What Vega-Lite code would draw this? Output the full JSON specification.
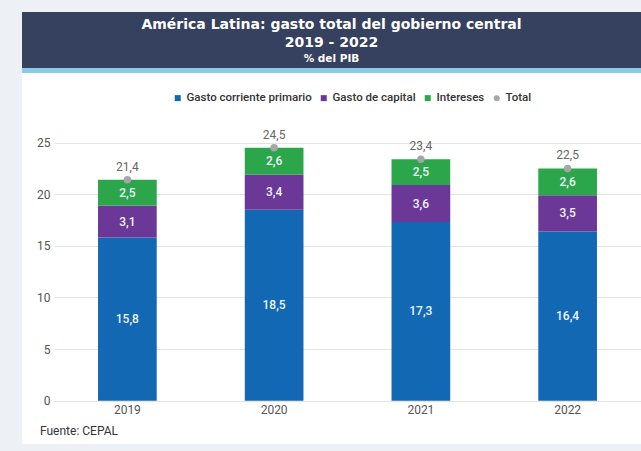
{
  "$schema": "https://vega.github.io/schema/vega-lite/v6.json",
  "background": "#edf0f5",
  "padding": {"left": 22, "top": 12, "right": 0, "bottom": 7},
  "config": {
    "locale": {"number": {"decimal": ",", "thousands": ".", "grouping": [3], "currency": ["$", ""]}},
    "font": "Roboto",
    "view": {"stroke": null},
    "concat": {"spacing": 0}
  },
  "datasets": {
    "gasto": [
      {"anio": "2019", "serie": "Gasto corriente primario", "valor": 15.8},
      {"anio": "2019", "serie": "Gasto de capital", "valor": 3.1},
      {"anio": "2019", "serie": "Intereses", "valor": 2.5},
      {"anio": "2019", "serie": "Total", "valor": 21.4},
      {"anio": "2020", "serie": "Gasto corriente primario", "valor": 18.5},
      {"anio": "2020", "serie": "Gasto de capital", "valor": 3.4},
      {"anio": "2020", "serie": "Intereses", "valor": 2.6},
      {"anio": "2020", "serie": "Total", "valor": 24.5},
      {"anio": "2021", "serie": "Gasto corriente primario", "valor": 17.3},
      {"anio": "2021", "serie": "Gasto de capital", "valor": 3.6},
      {"anio": "2021", "serie": "Intereses", "valor": 2.5},
      {"anio": "2021", "serie": "Total", "valor": 23.4},
      {"anio": "2022", "serie": "Gasto corriente primario", "valor": 16.4},
      {"anio": "2022", "serie": "Gasto de capital", "valor": 3.5},
      {"anio": "2022", "serie": "Intereses", "valor": 2.6},
      {"anio": "2022", "serie": "Total", "valor": 22.5}
    ]
  },
  "vconcat": [
    {
      "width": 619,
      "height": 56,
      "view": {"fill": "#36415f", "stroke": null},
      "title": {
        "text": ["América Latina: gasto total del gobierno central", "2019 - 2022"],
        "subtitle": "% del PIB",
        "font": "DejaVu Sans",
        "subtitleFont": "DejaVu Sans",
        "color": "white",
        "subtitleColor": "white",
        "fontSize": 14,
        "fontWeight": "bold",
        "subtitleFontSize": 10.5,
        "subtitleFontWeight": "bold",
        "lineHeight": 18,
        "subtitleLineHeight": 13,
        "subtitlePadding": 4,
        "anchor": "middle",
        "frame": "group",
        "offset": -52
      },
      "data": {"values": []},
      "mark": "rule",
      "encoding": {}
    },
    {
      "width": 619,
      "height": 5,
      "view": {"fill": "#86cde6", "stroke": null},
      "data": {"values": []},
      "mark": "rule",
      "encoding": {}
    },
    {
      "bounds": "flush",
      "spacing": 0,
      "hconcat": [
        {
          "width": 32,
          "height": 371,
          "view": {"fill": "white", "stroke": null},
          "data": {"values": []},
          "mark": "rule",
          "encoding": {}
        },
        {
          "width": 587,
          "height": 371,
          "view": {"fill": "white", "stroke": null},
          "data": {"name": "gasto"},
          "title": {
            "text": "Fuente: CEPAL",
            "orient": "bottom",
            "anchor": "start",
            "frame": "group",
            "offset": -18,
            "dx": -14,
            "fontSize": 12,
            "fontWeight": "normal",
            "color": "#333333"
          },
          "encoding": {
            "x": {
              "field": "anio",
              "type": "ordinal",
              "scale": {"paddingInner": 0.6, "paddingOuter": 0.3},
              "axis": {
                "title": null,
                "labelAngle": 0,
                "domain": false,
                "ticks": false,
                "grid": false,
                "offset": -43.3,
                "labelPadding": 4,
                "labelColor": "#555555",
                "labelFontSize": 12
              }
            }
          },
          "layer": [
            {
              "transform": [{"filter": "datum.serie != 'Total'"}],
              "mark": {"type": "bar"},
              "encoding": {
                "y": {
                  "field": "valor",
                  "type": "quantitative",
                  "stack": "zero",
                  "scale": {"domain": [-4.2, 31.75], "nice": false, "zero": false},
                  "axis": {
                    "title": null,
                    "values": [0, 5, 10, 15, 20, 25],
                    "grid": true,
                    "gridColor": "#e3e3e3",
                    "domain": false,
                    "ticks": false,
                    "labelPadding": 4,
                    "labelColor": "#555555",
                    "labelFontSize": 12
                  }
                },
                "order": {"field": "serie", "sort": "ascending"},
                "color": {
                  "field": "serie",
                  "type": "nominal",
                  "scale": {
                    "domain": ["Gasto corriente primario", "Gasto de capital", "Intereses", "Total"],
                    "range": ["#1268b3", "#6b3897", "#2ba64b", "#a6a6a6"]
                  },
                  "legend": {
                    "title": null,
                    "orient": "none",
                    "legendX": 150,
                    "legendY": 80,
                    "direction": "horizontal",
                    "labelFontSize": 11.5,
                    "labelFontWeight": 500,
                    "labelColor": "#333333",
                    "symbolSize": 36,
                    "labelOffset": 3,
                    "columnPadding": 6,
                    "symbolStrokeWidth": 0
                  }
                }
              }
            },
            {
              "transform": [{"filter": "datum.serie != 'Total'"}],
              "mark": {"type": "text", "color": "#eef4ff", "fontSize": 12, "fontWeight": 500},
              "encoding": {
                "y": {"field": "valor", "type": "quantitative", "stack": "zero", "bandPosition": 0.5},
                "order": {"field": "serie", "sort": "ascending"},
                "detail": {"field": "serie"},
                "text": {"field": "valor", "type": "quantitative", "format": ".1f"}
              }
            },
            {
              "transform": [{"filter": "datum.serie == 'Total'"}],
              "mark": {"type": "point", "filled": true, "size": 55, "opacity": 1},
              "encoding": {
                "y": {"field": "valor", "type": "quantitative"},
                "color": {"field": "serie", "type": "nominal"},
                "shape": {
                  "field": "serie",
                  "type": "nominal",
                  "scale": {
                    "domain": ["Gasto corriente primario", "Gasto de capital", "Intereses", "Total"],
                    "range": ["square", "square", "square", "circle"]
                  },
                  "legend": {
                    "title": null,
                    "orient": "none",
                    "legendX": 150,
                    "legendY": 80,
                    "direction": "horizontal",
                    "labelFontSize": 11.5,
                    "labelFontWeight": 500,
                    "labelColor": "#333333",
                    "symbolSize": 36,
                    "labelOffset": 3,
                    "columnPadding": 6,
                    "symbolStrokeWidth": 0
                  }
                }
              }
            },
            {
              "transform": [{"filter": "datum.serie == 'Total'"}],
              "mark": {"type": "text", "color": "#666666", "fontSize": 12, "dy": -13},
              "encoding": {
                "y": {"field": "valor", "type": "quantitative"},
                "text": {"field": "valor", "type": "quantitative", "format": ".1f"}
              }
            }
          ]
        }
      ]
    }
  ]
}
